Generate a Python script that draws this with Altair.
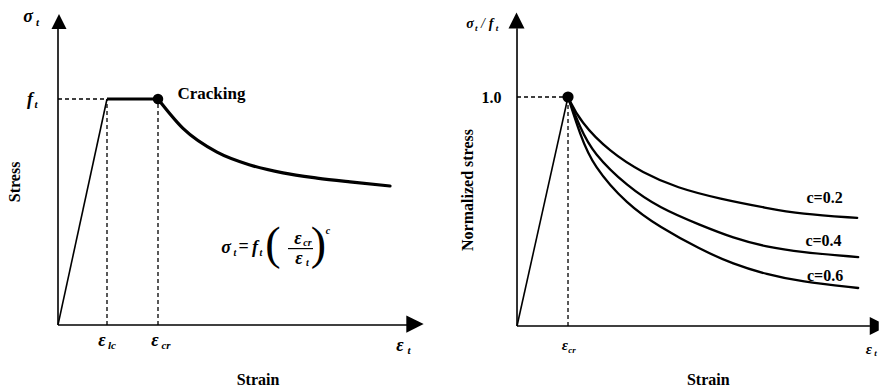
import altair as alt
import pandas as pd

SERIF = "Liberation Serif, Times New Roman, DejaVu Serif, serif"

# ---------------- data: left panel (tension stiffening law) ----------------
eps_lc = 0.49          # end of linear branch (strain / eps_cr)
eps_cr = 1.0           # cracking strain
ft = 1.0               # tensile strength level
soft_strain = [1.00, 1.25, 1.59, 1.92, 2.25, 2.59, 2.92, 3.32]
soft_stress = [1.00, 0.87, 0.765, 0.708, 0.673, 0.650, 0.633, 0.615]

# ---------------- data: right panel (normalized softening) ----------------
c_labels = ["c=0.2", "c=0.4", "c=0.6"]
c02_strain = [1.0, 1.24, 1.82, 2.47, 3.14, 3.98, 4.90, 5.55, 6.67]
c02_stress = [1.0, 0.891, 0.760, 0.668, 0.603, 0.555, 0.515, 0.489, 0.472]
c04_strain = [1.0, 1.24, 1.49, 2.16, 2.80, 3.59, 4.24, 4.90, 5.55, 6.69]
c04_stress = [1.0, 0.865, 0.755, 0.610, 0.515, 0.441, 0.384, 0.345, 0.323, 0.301]
c06_strain = [1.0, 1.24, 1.49, 2.16, 2.80, 3.59, 4.24, 4.90, 5.55, 6.69]
c06_stress = [1.0, 0.834, 0.700, 0.530, 0.432, 0.335, 0.270, 0.225, 0.194, 0.166]

ARROW_UP = "M-1,1L0,-1L1,1Z"
ARROW_RIGHT = "M-1,-1L1,0L-1,1Z"
# arrow head whose tip runs past the right border: only its base part is drawn
ARROW_RIGHT_CUT = "M-1,-2L1,-1L1,1L-1,2Z"


def make_panel(xdom, ydom):
    xs = alt.Scale(domain=xdom, nice=False, zero=False)
    ys = alt.Scale(domain=ydom, nice=False, zero=False)
    X = lambda f="x": alt.X(f"{f}:Q", scale=xs, axis=None)
    Y = lambda f="y": alt.Y(f"{f}:Q", scale=ys, axis=None)
    X2 = lambda f="x2": alt.X2(f"{f}:Q")
    Y2 = lambda f="y2": alt.Y2(f"{f}:Q")

    def segs(rows, **style):
        df = pd.DataFrame(rows, columns=["x", "y", "x2", "y2"])
        return alt.Chart(df).mark_rule(color="black", **style).encode(
            x=X(), y=Y(), x2=X2(), y2=Y2())

    def arrow(x, y, shape, size):
        df = pd.DataFrame({"x": [x], "y": [y]})
        return alt.Chart(df).mark_point(
            shape=shape, filled=True, size=size, color="black", opacity=1,
            strokeWidth=0).encode(x=X(), y=Y())

    def dot(x, y, size):
        df = pd.DataFrame({"x": [x], "y": [y]})
        return alt.Chart(df).mark_circle(size=size, color="black", opacity=1).encode(
            x=X(), y=Y())

    def texts(rows, size, style="normal", weight="normal", angle=0, font=SERIF):
        df = pd.DataFrame(rows, columns=["t", "x", "y"])
        kw = dict(font=font, fontSize=size, fontStyle=style, fontWeight=weight,
                  color="black", align="center", baseline="middle")
        if angle:
            kw["angle"] = angle
        return alt.Chart(df).mark_text(**kw).encode(x=X(), y=Y(), text="t:N")

    def curve(df, width, interp="monotone"):
        return alt.Chart(df).mark_line(
            color="black", strokeWidth=width, interpolate=interp,
            strokeCap="round").encode(x=X(), y=Y(), detail="c:N", order="x:Q")

    return segs, arrow, dot, texts, curve


# ---------------- left panel ----------------
segs, arrow, dot, texts, curve = make_panel([-0.58, 3.82], [-0.279, 1.438])

left_layers = [
    segs([[0, 0, 0, 1.31], [0, 0, 3.49, 0]], strokeWidth=1.6),
    arrow(0.01, 1.343, ARROW_UP, 225),
    arrow(3.57, 0.004, ARROW_RIGHT, 300),
    segs([[0, ft, eps_lc, ft], [eps_lc, 0, eps_lc, ft], [eps_cr, 0, eps_cr, ft]],
         strokeWidth=1.3, strokeDash=[4, 3]),
    segs([[0, 0, eps_lc, ft]], strokeWidth=1.6),
    segs([[eps_lc, ft, eps_cr, ft]], strokeWidth=3.2),
    curve(pd.DataFrame({"x": soft_strain, "y": soft_stress, "c": "soft"}), 3.2),
    dot(eps_cr, ft, 110),
    # axis symbols
    texts([["σ", -0.30, 1.363], ["f", -0.28, 0.996],
           ["ε", 0.44, -0.071], ["ε", 0.97, -0.071], ["ε", 3.42, -0.093]],
          18, style="italic", weight="bold"),
    texts([["t", -0.205, 1.335], ["t", -0.22, 0.975],
           ["lc", 0.54, -0.095], ["cr", 1.08, -0.095], ["t", 3.51, -0.115]],
          11, style="italic", weight="bold"),
    # formula sigma_t = f_t (eps_cr / eps_t)^c
    texts([["σ", 1.68, 0.341], ["f", 1.97, 0.341],
           ["ε", 2.40, 0.381], ["ε", 2.41, 0.292]],
          18, style="italic", weight="bold"),
    texts([["t", 1.77, 0.318], ["t", 2.03, 0.318],
           ["cr", 2.495, 0.362], ["t", 2.495, 0.272], ["c", 2.70, 0.415]],
          10, style="italic", weight="bold"),
    texts([["=", 1.855, 0.345]], 18, weight="bold"),
    texts([["(", 2.15, 0.352], [")", 2.605, 0.352]], 46),
    segs([[2.30, 0.338, 2.55, 0.338]], strokeWidth=1.2),
    # labels
    texts([["Cracking", 1.535, 1.022]], 17, weight="bold"),
    texts([["Strain", 2.0, -0.243]], 16, weight="bold"),
    texts([["Stress", -0.43, 0.633]], 16, weight="bold", angle=270),
]
left = alt.layer(*left_layers).properties(width=440, height=388)

# ---------------- right panel ----------------
segs, arrow, dot, texts, curve = make_panel([-1.51, 7.098], [-0.2707, 1.4236])

norm_df = pd.concat([
    pd.DataFrame({"x": c02_strain, "y": c02_stress, "c": c_labels[0]}),
    pd.DataFrame({"x": c04_strain, "y": c04_stress, "c": c_labels[1]}),
    pd.DataFrame({"x": c06_strain, "y": c06_stress, "c": c_labels[2]}),
])

right_layers = [
    segs([[0, 0, 0, 1.30], [0, 0, 6.92, 0]], strokeWidth=1.6),
    arrow(-0.01, 1.334, ARROW_UP, 256),
    arrow(7.005, 0.0, ARROW_RIGHT_CUT, 81),
    segs([[0, 1.0, 1.0, 1.0], [1.0, 0, 1.0, 1.0]], strokeWidth=1.3, strokeDash=[4, 3]),
    segs([[0, 0, 1.0, 1.0]], strokeWidth=1.6),
    curve(norm_df, 2.3, "basis"),
    dot(1.0, 1.0, 125),
    texts([["σ", -0.92, 1.319], ["f", -0.51, 1.319]], 14, style="italic", weight="bold"),
    texts([["t", -0.80, 1.300], ["t", -0.39, 1.300]], 9, style="italic", weight="bold"),
    texts([["/", -0.67, 1.319]], 14, style="italic"),
    texts([["ε", 0.94, -0.083], ["ε", 6.90, -0.100]], 15, style="italic", weight="bold"),
    texts([["cr", 1.08, -0.103], ["t", 7.03, -0.118]], 9, style="italic", weight="bold"),
    texts([["1.0", -0.50, 0.996]], 16, weight="bold"),
    texts([[c_labels[0], 6.03, 0.561], [c_labels[1], 6.01, 0.371],
           [c_labels[2], 6.04, 0.218]], 16, weight="bold"),
    texts([["Strain", 3.75, -0.236]], 16, weight="bold"),
    texts([["Normalized stress", -0.97, 0.594]], 16, weight="bold", angle=270),
]
right = alt.layer(*right_layers).properties(width=439, height=388)

chart = alt.hconcat(left, right, spacing=0, bounds="flush").properties(
    padding=0, background="white"
).configure_view(strokeWidth=0)

chart.save("out.html", embed_options={"renderer": "svg", "actions": False})
